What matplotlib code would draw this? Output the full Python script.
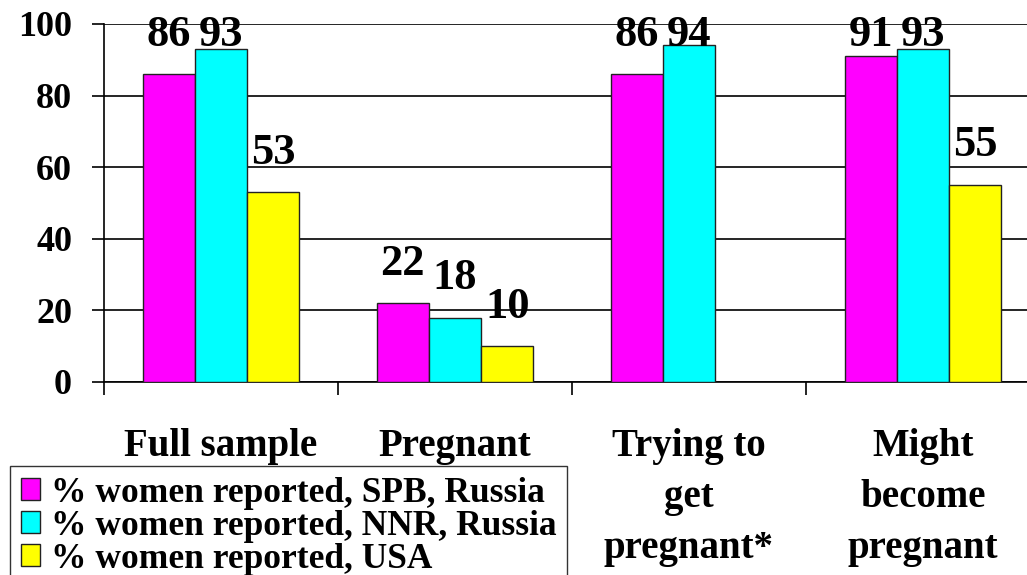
import numpy as np
import matplotlib.pyplot as plt
from matplotlib.ticker import FixedLocator

categories = ["Full sample", "Pregnant", "Trying to\nget\npregnant*", "Might\nbecome\npregnant"]
spb = [86, 22, 86, 91]
nnr = [93, 18, 94, 93]
usa = [53, 10, np.nan, 55]
series_names = ["% women reported, SPB, Russia",
                "% women reported, NNR, Russia",
                "% women reported, USA"]
colors = ["#FF00FF", "#00FFFF", "#FFFF00"]
yticks = [0, 20, 40, 60, 80, 100]

plt.rcParams["font.family"] = ["Liberation Serif", "DejaVu Serif"]
plt.rcParams["font.weight"] = "bold"

fig = plt.figure(figsize=(10.27, 5.75), dpi=100)
ax = fig.add_axes([104 / 1027, 1 - 382 / 575, 936 / 1027, 358 / 575])

x = np.arange(len(categories))
w = 0.2235
for k, (vals, name, col) in enumerate(zip([spb, nnr, usa], series_names, colors)):
    pos = x + (k - 1) * w
    ax.bar(pos, vals, width=w, color=col, edgecolor="#222222", linewidth=1.0,
           label=name, zorder=3)
    for xp, v in zip(pos, vals):
        if np.isnan(v):
            continue
        ax.text(xp, min(v + 8, 93.8), f"{v:g}", ha="center", va="baseline",
                fontsize=32, fontweight="bold", zorder=4)

ax.set_xlim(-0.5, 3.5)
ax.set_ylim(0, 100)
ax.set_yticks(yticks)
ax.yaxis.grid(True, color="black", linewidth=1.2, zorder=0)
ax.tick_params(axis="y", length=9, width=1.2, pad=14, labelsize=26)

ax.set_xticks(x)
ax.set_xticklabels(categories, fontsize=28, linespacing=1.5, va="top")
ax.tick_params(axis="x", which="major", length=0, pad=33)
ax.xaxis.set_minor_locator(FixedLocator(np.arange(-0.5, 4, 1.0)))
ax.tick_params(axis="x", which="minor", length=9, width=1.2)

for s in ["top", "right"]:
    ax.spines[s].set_visible(False)
for s in ["left", "bottom"]:
    ax.spines[s].set_linewidth(1.2)

leg = fig.legend(loc="upper left", bbox_to_anchor=(10 / 1027, 1 - 466 / 575),
                 fontsize=25.5, frameon=True, fancybox=False, borderaxespad=0,
                 borderpad=0.3, labelspacing=0.0, handlelength=0.55,
                 handleheight=0.6, handletextpad=0.3)
leg.get_frame().set_edgecolor("black")
leg.get_frame().set_linewidth(1.0)

fig.savefig("out.png", dpi=100)
